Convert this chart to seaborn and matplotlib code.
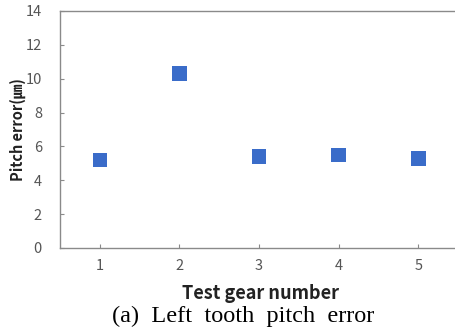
import matplotlib
matplotlib.use("Agg")
import matplotlib.pyplot as plt
import seaborn as sns
import pandas as pd

# data
gear_number = [1, 2, 3, 4, 5]
pitch_error = [5.2, 10.3, 5.4, 5.5, 5.3]
y_ticks = [0, 2, 4, 6, 8, 10, 12, 14]

df = pd.DataFrame({"gear": gear_number, "error": pitch_error})

sns.set_style("white")
plt.rcParams['font.family'] = ['Noto Sans CJK KR', 'DejaVu Sans']

fig = plt.figure(figsize=(4.56, 3.31), dpi=100)
ax = fig.add_axes([0.1316, 0.2508, 0.873, 0.716])

sns.scatterplot(data=df, x="gear", y="error", marker="s", s=110,
                color="#3A6CC9", edgecolor="none", ax=ax)

ax.set_xlim(0.5, 5.5)
ax.set_ylim(0, 14)
ax.set_xticks(gear_number)
ax.set_yticks(y_ticks)
ax.tick_params(direction="in", length=3, width=0.8, color="#8a8a8a",
               labelcolor="#555555", labelsize=10.5)
ax.tick_params(axis="x", bottom=True, pad=8)
ax.tick_params(axis="y", left=True, pad=13)

for side in ["left", "bottom", "top"]:
    ax.spines[side].set_color("#8a8a8a")
    ax.spines[side].set_linewidth(1.0)
ax.spines["right"].set_visible(False)

ax.set_xlabel("")
ax.set_ylabel("Pitch error(㎛)", fontsize=10.5, fontweight="bold", color="#222222", labelpad=0)

fig.text(0.571, 0.112, "Test gear number", ha="center", va="center",
         fontsize=13, fontweight="bold", color="#222222")
fig.text(0.533, 0.043, "(a)  Left  tooth  pitch  error", ha="center", va="center",
         fontsize=17.5, family="Liberation Serif", color="black")

fig.savefig("out.png", dpi=100)
